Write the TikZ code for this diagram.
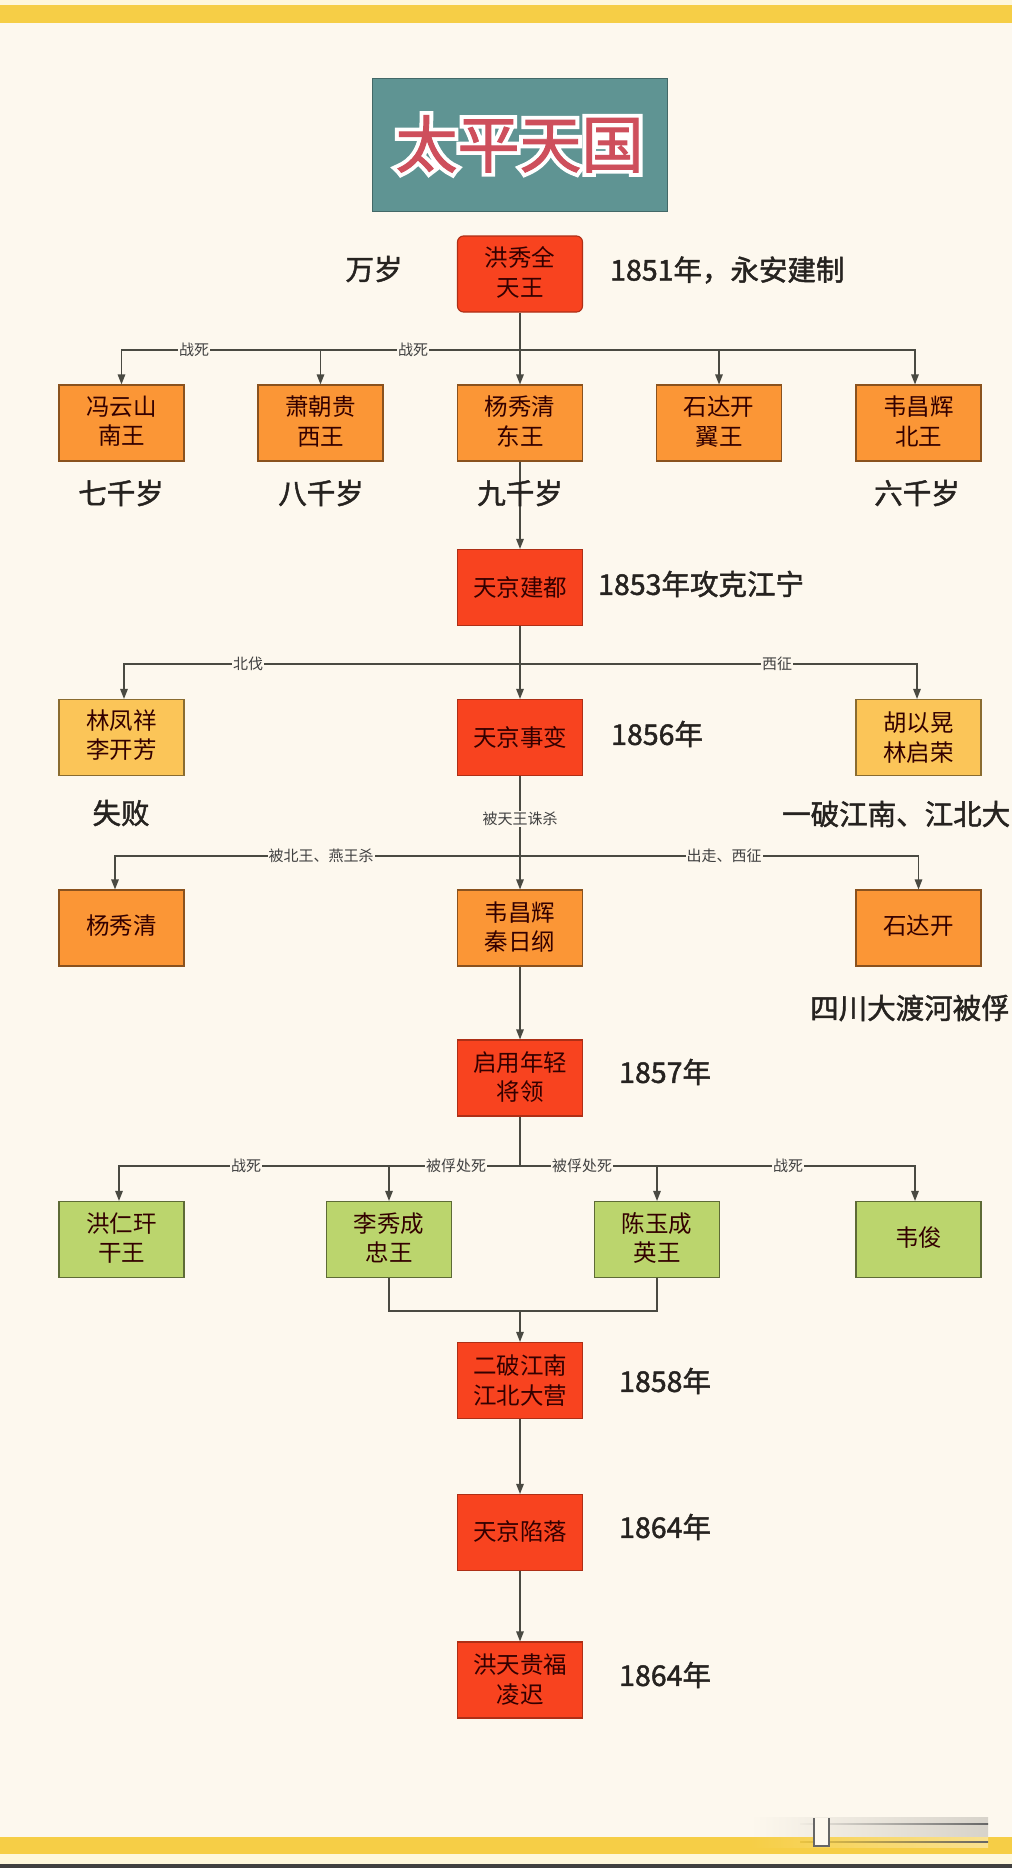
\documentclass[tikz,border=0pt]{standalone}
\usepackage{fontspec}
\setmainfont{Noto Sans CJK SC}
\newfontfamily\cjkmed{Noto Sans CJK SC}[FakeBold=1.6]
\newfontfamily\titleout{Noto Sans CJK SC}[FakeBold=14]
\newfontfamily\titlein{Noto Sans CJK SC}[FakeBold=1.5]
\usetikzlibrary{arrows.meta}
\definecolor{pagebg}{HTML}{FDF8EE}
\definecolor{band}{HTML}{F6CE46}
\definecolor{bandlt}{HTML}{FEF7DC}
\definecolor{teal}{HTML}{5F9493}
\definecolor{redbox}{HTML}{F8431F}
\definecolor{orangebox}{HTML}{FB9636}
\definecolor{yellowbox}{HTML}{FBC558}
\definecolor{greenbox}{HTML}{BBD56D}
\definecolor{linecol}{HTML}{4A4A42}
\definecolor{txt}{HTML}{262320}
\definecolor{titlered}{HTML}{CE4F5C}
\tikzset{
  x=1pt,y=-1pt,
  boxbase/.style={rectangle,minimum width=125pt,minimum height=76pt,inner sep=0pt,align=center,
    font=\fontsize{23.5}{29.5}\selectfont,text=black!80!red,line width=1.1pt},
  up/.style={execute at end node={\rule[-#1pt]{0pt}{0pt}}},
  redn/.style={boxbase,fill=redbox,draw=redbox!70!black},
  orangen/.style={boxbase,fill=orangebox,draw=orangebox!55!black},
  yellown/.style={boxbase,fill=yellowbox,draw=yellowbox!55!black},
  greenn/.style={boxbase,fill=greenbox,draw=greenbox!50!black},
  side/.style={inner sep=0pt,font=\fontsize{28.5}{32}\cjkmed\selectfont,text=txt},
  tag/.style={inner sep=1pt,fill=pagebg,font=\fontsize{15}{17}\selectfont,text=black!75},
  link/.style={draw=linecol,line width=1.3pt},
  arr/.style={link,-{Triangle[length=10pt,width=7.5pt]}}
}
\begin{document}
\begin{tikzpicture}
\useasboundingbox (0,0) rectangle (1012,1868);
% page and bands
\fill[pagebg] (0,0) rectangle (1012,1868);
\fill[bandlt] (0,0) rectangle (1012,5);
\fill[band] (0,5) rectangle (1012,23);
\fill[band] (0,1837) rectangle (1012,1854);
\fill[bandlt] (0,1854) rectangle (1012,1864);
\fill[black!75] (0,1864) rectangle (1012,1868);
% blurred watermark
\shade[left color=pagebg,right color=pagebg!85!black] (750,1817) rectangle (988,1837);
\shade[left color=band,right color=band!60!white] (750,1837) rectangle (988,1847);
\shade[left color=pagebg!95!black,right color=black!60] (800,1823.5) rectangle (988,1824.5);
\shade[left color=band!95!black,right color=black!60] (800,1841.5) rectangle (988,1842.5);
\fill[pagebg] (814,1818) rectangle (829,1846);
\draw[black!60,line width=1.3pt] (814,1818) -- (814,1846) -- (829,1846) -- (829,1818);

% title
\node[rectangle,fill=teal,draw=teal!70!black,line width=1pt,minimum width=295pt,minimum height=133pt,inner sep=0pt] (titlebox) at (519.5,145) {};
\node[inner sep=0pt,font=\fontsize{62}{66}\titleout\selectfont,text=white] (titleedge) at (519.5,144) {太平天国};
\node[inner sep=0pt,font=\fontsize{62}{66}\titlein\selectfont,text=titlered] (titletext) at (519.5,144) {太平天国};

% hubs
\coordinate (hubA) at (520,350);
\coordinate (hubB) at (520,664);
\coordinate (hubC) at (520,856);
\coordinate (hubD) at (520,1166);
\coordinate (hubE) at (520,1311);

% nodes
\node[redn,rounded corners=6pt,up=5] (hong) at (520,274) {洪秀全\\天王};
\node[orangen,up=5] (feng) at (121.5,423) {冯云山\\南王};
\node[orangen,up=5] (xiao) at (320.5,423) {萧朝贵\\西王};
\node[orangen,up=5] (yang) at (520,423) {杨秀清\\东王};
\node[orangen,up=5] (shi) at (719,423) {石达开\\翼王};
\node[orangen,up=5] (wei) at (918.5,423) {韦昌辉\\北王};
\node[redn,up=2] (capital) at (520,587.5) {天京建都};
\node[yellown,up=7] (lin) at (121.5,737.5) {林凤祥\\李开芳};
\node[redn,up=1] (incident) at (520,737.5) {天京事变};
\node[yellown] (hu) at (918.5,737.5) {胡以晃\\林启荣};
\node[orangen,up=6] (yang2) at (121.5,928) {杨秀清};
\node[orangen,up=4] (wei2) at (520,928) {韦昌辉\\秦日纲};
\node[orangen,up=6] (shi2) at (918.5,928) {石达开};
\node[redn,up=4] (young) at (520,1078) {启用年轻\\将领};
\node[greenn,up=5] (ganw) at (121.5,1239.5) {洪仁玕\\干王};
\node[greenn,up=5] (li) at (389,1239.5) {李秀成\\忠王};
\node[greenn,up=5] (chen) at (657,1239.5) {陈玉成\\英王};
\node[greenn,up=5] (weijun) at (918.5,1239.5) {韦俊};
\node[redn,up=1] (second) at (520,1380.5) {二破江南\\江北大营};
\node[redn,up=3] (fall) at (520,1532.5) {天京陷落};
\node[redn,up=3] (tgf) at (520,1680) {洪天贵福\\凌迟};

% connectors
\draw[arr] (hong) -- (yang);
\draw[arr] (hubA) -| (feng);
\draw[arr] (hubA) -| (xiao);
\draw[arr] (hubA) -| (shi);
\draw[arr] (hubA) -| ([xshift=-3.5pt]wei.north);
\draw[arr] (yang) -- (capital);
\draw[arr] (capital) -- (incident);
\draw[arr] (hubB) -| ([xshift=2.5pt]lin.north);
\draw[arr] (hubB) -| ([xshift=-1.5pt]hu.north);
\draw[arr] (incident) -- (wei2);
\draw[arr] (hubC) -| ([xshift=-6.5pt]yang2.north);
\draw[arr] (hubC) -| (shi2);
\draw[arr] (wei2) -- (young);
\draw[link] (young) -- (hubD);
\draw[arr] (hubD) -| ([xshift=-2.5pt]ganw.north);
\draw[arr] (hubD) -| (li);
\draw[arr] (hubD) -| (chen);
\draw[arr] (hubD) -| ([xshift=-3.5pt]weijun.north);
\draw[link] (li) |- (hubE);
\draw[link] (chen) |- (hubE);
\draw[arr] (hubE) -- (second);
\draw[arr] (second) -- (fall);
\draw[arr] (fall) -- (tgf);

% connector labels
\node[tag] (t1) at (194,350) {战死};
\node[tag] (t2) at (413,350) {战死};
\node[tag] (t3) at (248,664) {北伐};
\node[tag] (t4) at (777,664) {西征};
\node[tag] (t5) at (520,819) {被天王诛杀};
\node[tag] (t6) at (321,856) {被北王、燕王杀};
\node[tag] (t7) at (724,856) {出走、西征};
\node[tag] (t8) at (246,1166) {战死};
\node[tag] (t9) at (456,1166) {被俘处死};
\node[tag] (t10) at (582,1166) {被俘处死};
\node[tag] (t11) at (788,1166) {战死};

% side labels
\node[side] (s1) at (374,269) {万岁};
\node[side,anchor=west] (s2) at (610,270) {1851年，永安建制};
\node[side] (s3) at (121,493) {七千岁};
\node[side] (s4) at (321,493) {八千岁};
\node[side] (s5) at (520,493) {九千岁};
\node[side] (s6) at (917,493) {六千岁};
\node[side,anchor=west] (s7) at (598,584) {1853年攻克江宁};
\node[side,anchor=west] (s8) at (611,734) {1856年};
\node[side] (s9) at (121,813) {失败};
\node[side,anchor=west] (s10) at (782,814) {一破江南、江北大};
\node[side,anchor=west] (s11) at (810,1008) {四川大渡河被俘};
\node[side,anchor=west] (s12) at (619,1072) {1857年};
\node[side,anchor=west] (s13) at (619,1381) {1858年};
\node[side,anchor=west] (s14) at (619,1527) {1864年};
\node[side,anchor=west] (s15) at (619,1675) {1864年};
\end{tikzpicture}
\end{document}
